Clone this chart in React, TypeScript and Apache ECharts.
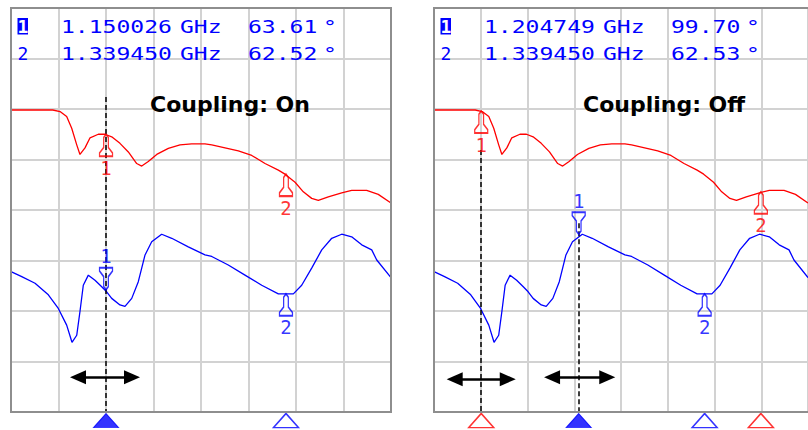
import React, { useEffect, useRef } from "react";
import * as echarts from "echarts";

const RED = "#ff0000";
const BLUE = "#0000ff";

// Frequency axis (MHz) and vertical divisions
const X_MIN = 1050;
const X_MAX = 1450;
const X_STEP = 50;
const Y_MIN = 0;
const Y_MAX = 8;
const Y_STEP = 1;

// Trace 1 (red): [frequency MHz, divisions]
const redTrace: number[][] = [
  [1050, 5.98], [1094, 5.98], [1101.6, 5.95], [1108.6, 5.85], [1113.9, 5.62],
  [1119.2, 5.29], [1122.6, 5.1], [1127.9, 5.23], [1133.2, 5.43], [1141.9, 5.5],
  [1148.9, 5.5], [1156, 5.45], [1164.7, 5.32], [1173.5, 5.15], [1182.3, 4.92],
  [1187.6, 4.87], [1194.5, 4.96], [1203.4, 5.1], [1215.6, 5.22], [1227.9, 5.29],
  [1240.2, 5.31], [1254.2, 5.31], [1261.3, 5.29], [1275.3, 5.23], [1289.3, 5.17],
  [1303.4, 5.08], [1317.4, 4.92], [1331.4, 4.79], [1338.4, 4.71], [1349, 4.55],
  [1357.7, 4.36], [1366.5, 4.23], [1373.5, 4.19], [1384, 4.26], [1398.1, 4.34],
  [1408.6, 4.39], [1424.4, 4.39], [1436.6, 4.31], [1450, 4.14],
];

// Trace 2 (blue): [frequency MHz, divisions]
const blueTrace: number[][] = [
  [1050, 2.78], [1061.3, 2.68], [1075.3, 2.55], [1089.3, 2.32], [1099.8, 2.05],
  [1108.6, 1.72], [1114.2, 1.38], [1119.2, 1.52], [1122.6, 1.99], [1126.1, 2.51],
  [1131.4, 2.71], [1138.4, 2.61], [1145.5, 2.48], [1150.7, 2.38], [1156, 2.25],
  [1164.7, 2.12], [1170, 2.09], [1177.1, 2.25], [1184, 2.58], [1191.1, 3.11],
  [1198.1, 3.37], [1208.6, 3.52], [1219.2, 3.44], [1236.6, 3.27], [1254.2, 3.11],
  [1261.3, 3.08], [1278.7, 2.91], [1296.3, 2.71], [1313.9, 2.51], [1331.4, 2.34],
  [1347.2, 2.34], [1356, 2.51], [1366.5, 2.85], [1377.1, 3.21], [1387.6, 3.44],
  [1398.1, 3.52], [1408.6, 3.47], [1419.2, 3.31], [1429.7, 3.21], [1435, 3.01],
  [1450, 2.66],
];

const panelTitles = ["Coupling: On", "Coupling: Off"];

// Readout rows: marker, frequency, unit, value, unit
const readoutOn = [
  ["1", "1.150026", "GHz", "63.61", "°"],
  ["2", "1.339450", "GHz", "62.52", "°"],
];
const readoutOff = [
  ["1", "1.204749", "GHz", "99.70", "°"],
  ["2", "1.339450", "GHz", "62.53", "°"],
];

// Markers: [frequency MHz, divisions, label, color, pointing]
type Marker = [number, number, string, string, "up" | "down"];
const markersOn: Marker[] = [
  [1150.026, 5.5, "1", RED, "up"],
  [1339.45, 4.71, "2", RED, "up"],
  [1150.026, 2.42, "1", BLUE, "down"],
  [1339.45, 2.34, "2", BLUE, "up"],
];
const markersOff: Marker[] = [
  [1100.5, 5.96, "1", RED, "up"],
  [1399.6, 4.36, "2", RED, "up"],
  [1204.749, 3.52, "1", BLUE, "down"],
  [1339.45, 2.34, "2", BLUE, "up"],
];

// Stimulus triangles under the grid: [frequency, color, filled]
type Stim = [number, string, boolean];
const stimOn: Stim[] = [
  [1150.026, BLUE, true],
  [1339.45, BLUE, false],
];
const stimOff: Stim[] = [
  [1100.5, RED, false],
  [1204.749, BLUE, true],
  [1339.45, BLUE, false],
  [1399.6, RED, false],
];
const STIM_Y = -0.17;

// Dashed marker lines: [frequency, top division]
const dashOn: number[][] = [[1150.026, 6.24]];
const dashOff: number[][] = [[1100.5, 5.19], [1204.749, 3.74]];

// Double arrows (arrowhead centres): [from MHz, to MHz, division]
const arrowsOn: number[][] = [[1120.5, 1177.4, 0.69]];
const arrowsOff: number[][] = [[1072.1, 1128.9, 0.65], [1176.3, 1235.3, 0.69]];

const PANEL_LEFT = [11, 434];
const PANEL_TOP = 8;
const PANEL_W = 380;
const PANEL_H = 404;

const UP_PATH = "path://M5 0 L3.2 3 L3.2 12 L0 17 L0 20 L10 20 L10 17 L6.8 12 L6.8 3 Z";
const DOWN_PATH = "path://M0 0 L10 0 L10 3 L6.8 8 L6.8 17 L5 20 L3.2 17 L3.2 8 L0 3 Z";

function buildOption() {
  const grid = PANEL_LEFT.map((l) => ({ left: l, top: PANEL_TOP, width: PANEL_W, height: PANEL_H, show: false }));
  const split = { show: true, lineStyle: { color: "#d2d2d2", width: 2 } };
  const xAxis = [0, 1].map((i) => ({
    type: "value", gridIndex: i, min: X_MIN, max: X_MAX, interval: X_STEP,
    axisLine: { show: false }, axisTick: { show: false }, axisLabel: { show: false }, splitLine: split,
  }));
  const yAxis = [0, 1].map((i) => ({
    type: "value", gridIndex: i, min: Y_MIN, max: Y_MAX, interval: Y_STEP,
    axisLine: { show: false }, axisTick: { show: false }, axisLabel: { show: false }, splitLine: split,
  }));

  const panels = [
    { markers: markersOn, stim: stimOn, dash: dashOn, arrows: arrowsOn },
    { markers: markersOff, stim: stimOff, dash: dashOff, arrows: arrowsOff },
  ];

  const series: any[] = [];
  panels.forEach((p, i) => {
    const mlData: any[] = [];
    p.dash.forEach(([f, top]) => {
      mlData.push([
        { coord: [f, top], symbol: "none", lineStyle: { color: "#000", width: 1.5, type: [5, 3] } },
        { coord: [f, Y_MIN], symbol: "none" },
      ]);
    });
    p.arrows.forEach(([a, b, y]) => {
      mlData.push([
        { coord: [a, y], symbol: "triangle", symbolSize: [14, 16], lineStyle: { color: "#000", width: 2.6, type: "solid" } },
        { coord: [b, y], symbol: "triangle", symbolSize: [14, 16] },
      ]);
    });
    series.push({
      type: "line", xAxisIndex: i, yAxisIndex: i, data: redTrace, symbol: "none", showSymbol: false,
      lineStyle: { color: RED, width: 1.3 }, z: 3,
      markLine: { silent: true, symbol: ["none", "none"], label: { show: false }, data: mlData, z: 5 },
    });
    series.push({
      type: "line", xAxisIndex: i, yAxisIndex: i, data: blueTrace, symbol: "none", showSymbol: false,
      lineStyle: { color: BLUE, width: 1.3 }, z: 3,
    });
    series.push({
      type: "scatter", xAxisIndex: i, yAxisIndex: i, z: 6, clip: false, silent: true,
      data: p.markers.map(([f, y, lab, col, dir]) => ({
        value: [f, y],
        symbol: dir === "up" ? UP_PATH : DOWN_PATH,
        symbolSize: [13, 22],
        symbolOffset: [0, dir === "up" ? 11 : -11],
        itemStyle: { color: "rgba(255,255,255,0)", borderColor: col, borderWidth: 1.6 },
        label: {
          show: true, formatter: lab, position: dir === "up" ? "bottom" : "top", distance: 1,
          color: col, fontFamily: "DejaVu Sans Mono", fontSize: 19,
        },
      })),
    });
    series.push({
      type: "scatter", xAxisIndex: i, yAxisIndex: i, z: 6, clip: false, silent: true,
      data: p.stim.map(([f, col, filled]) => ({
        value: [f, STIM_Y],
        symbol: "triangle",
        symbolSize: [25, 14],
        itemStyle: filled
          ? { color: col, borderColor: col, borderWidth: 1 }
          : { color: "#ffffff", borderColor: col, borderWidth: 1.5 },
      })),
    });
  });

  const graphic: any[] = [];
  const monoFont = '18px "DejaVu Sans Mono"';
  [readoutOn, readoutOff].forEach((rows, i) => {
    const L = PANEL_LEFT[i];
    graphic.push({
      type: "rect", z: 100, silent: true,
      shape: { x: L, y: PANEL_TOP, width: PANEL_W, height: PANEL_H },
      style: { fill: "none", stroke: "#8e8e8e", lineWidth: 2 },
    });
    graphic.push({
      type: "rect", z: 100, silent: true,
      shape: { x: L + 6.5, y: 18, width: 10.5, height: 16.5 },
      style: { fill: BLUE },
    });
    rows.forEach((r, k) => {
      const cy = k === 0 ? 26.5 : 53.5;
      const cols = [
        { t: r[0], x: L + 6.5, fill: k === 0 ? "#ffffff" : BLUE, font: k === 0 ? 'bold 18px "DejaVu Sans Mono"' : monoFont },
        { t: r[1], x: L + 50, fill: BLUE, font: monoFont },
        { t: r[2], x: L + 169, fill: BLUE, font: monoFont },
        { t: r[3], x: L + 237, fill: BLUE, font: monoFont },
        { t: r[4], x: L + 312, fill: BLUE, font: monoFont },
      ];
      cols.forEach((c, j) => {
        graphic.push({
          type: "text", z: 101, silent: true, x: c.x, y: cy, scaleX: j === 0 ? 1 : 1.28,
          style: {
            text: c.t, font: c.font, fill: c.fill,
            textAlign: "left", textVerticalAlign: "middle", align: "left", verticalAlign: "middle",
          },
        });
      });
    });
    graphic.push({
      type: "text", z: 101, silent: true, x: i === 0 ? 150 : 583, y: 104,
      style: {
        text: panelTitles[i], font: 'bold 22px "DejaVu Sans"', fill: "#000",
        textAlign: "left", textVerticalAlign: "middle", align: "left", verticalAlign: "middle",
      },
    });
  });

  return {
    animation: false,
    backgroundColor: "#ffffff",
    grid, xAxis, yAxis, series, graphic,
  };
}

export default function App() {
  const ref = useRef<HTMLDivElement>(null);
  useEffect(() => {
    if (!ref.current) return;
    const chart = echarts.init(ref.current, undefined, { renderer: "svg" });
    chart.setOption(buildOption() as any);
    return () => chart.dispose();
  }, []);
  return (
    <div
      ref={ref}
      style={{ position: "absolute", left: 0, top: 0, width: 808, height: 430, background: "#fff" }}
    />
  );
}
